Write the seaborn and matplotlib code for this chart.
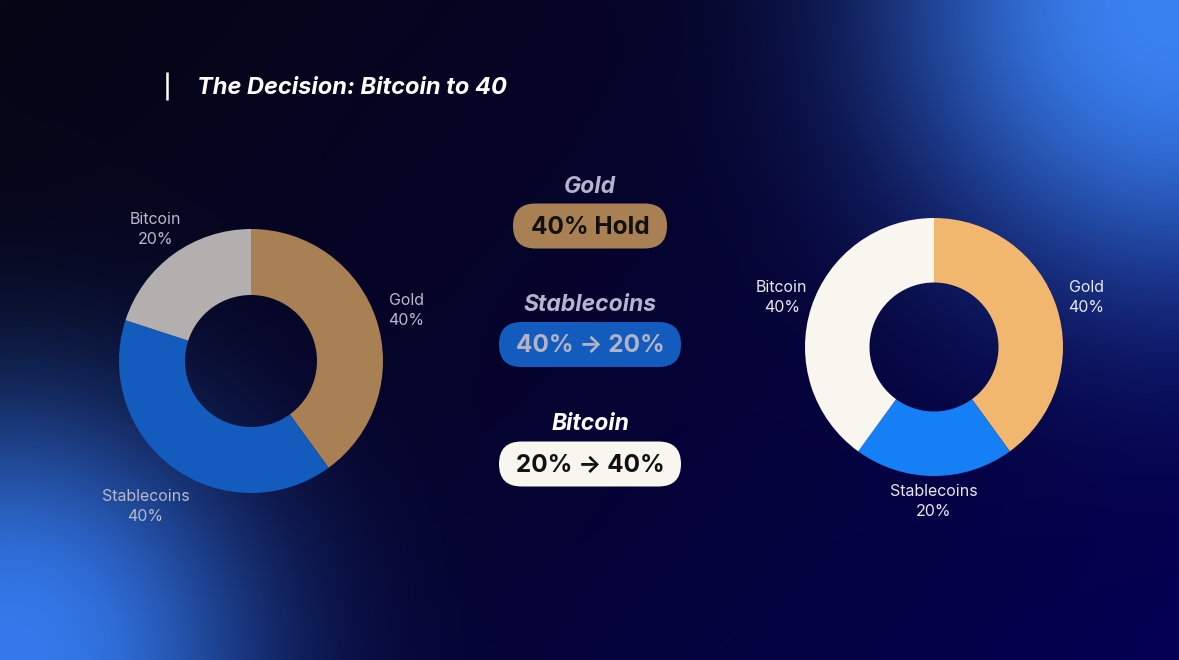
import numpy as np
import matplotlib
matplotlib.use("Agg")
import matplotlib.pyplot as plt
from matplotlib.patches import FancyBboxPatch
import seaborn as sns

# ---------------- data ----------------
categories = ["Gold", "Stablecoins", "Bitcoin"]
before_pct = [40, 40, 20]
after_pct = [40, 20, 40]
change_labels = ["40% Hold", "40% → 20%", "20% → 40%"]
title = "The Decision: Bitcoin to 40"

# ---------------- style ----------------
sns.set_theme(style="white")
plt.rcParams["font.family"] = ["Inter", "DejaVu Sans"]

W, H = 1179, 660
fig = plt.figure(figsize=(W / 100, H / 100), dpi=100)

# background gradient
yy, xx = np.mgrid[0:H, 0:W].astype(float)
t = (np.clip(0.68 * xx / W + 0.32 * yy / H, 0, 1) ** 1.3)[..., None]
c0 = np.array([6, 6, 22]) / 255
c1 = np.array([4, 0, 84]) / 255
img = c0 + (c1 - c0) * t
def glow(cx, cy, R, col, p=2.0):
    d = np.hypot(xx - cx, yy - cy)
    w = np.exp(-(d / R) ** p)[..., None]
    return w, np.array(col) / 255
for cx, cy, R, col, p in [(10, 655, 250, (52, 122, 236), 2.4),
                          (1179, 0, 290, (58, 130, 242), 2.5)]:
    w, c = glow(cx, cy, R, col, p)
    img = img * (1 - w) + c * w
bg = fig.add_axes([0, 0, 1, 1])
bg.imshow(img, extent=(0, W, H, 0), aspect="auto", interpolation="bilinear")
bg.set_xlim(0, W)
bg.set_ylim(H, 0)
bg.axis("off")

# ---------------- donuts ----------------
def donut(cx, cy, R, values, colors, label_color, label_dist):
    ax = fig.add_axes([(cx - R) / W, 1 - (cy + R) / H, 2 * R / W, 2 * R / H])
    wedges, _ = ax.pie(values, colors=colors, startangle=90, counterclock=False,
                       radius=1, wedgeprops=dict(width=0.5, linewidth=0))
    ax.set_xlim(-1, 1)
    ax.set_ylim(-1, 1)
    ax.axis("off")
    for wdg, cat, v, dist in zip(wedges, categories, values, label_dist):
        ang = np.deg2rad((wdg.theta1 + wdg.theta2) / 2)
        ax.text(dist * np.cos(ang), dist * np.sin(ang), f"{cat}\n{v}%",
                ha="center", va="center", fontsize=11.5, color=label_color,
                linespacing=1.4, clip_on=False)
    return ax

donut(251, 361, 132, before_pct, ["#A98054", "#135CBE", "#B3AFAF"], "#B9B9CB",
      [1.235, 1.36, 1.235])
donut(934, 347, 129, after_pct, ["#F2B76E", "#1580F5", "#F9F5EF"], "#E8E8F0",
      [1.24, 1.20, 1.24])

# ---------------- overlay (pixel coords) ----------------
ov = fig.add_axes([0, 0, 1, 1])
ov.set_xlim(0, W)
ov.set_ylim(H, 0)
ov.axis("off")
ov.patch.set_alpha(0)

ov.plot([167, 167], [72, 100], color="white", lw=1.8, solid_capstyle="butt")
ov.text(197, 88, title, ha="left", va="center", fontsize=17, color="white",
        fontweight="bold", fontstyle="italic")

head_y = [187, 305, 424]
pill_y = [226, 344.5, 464]
pill_w = [154, 182, 182]
pill_h = 45
head_colors = ["#B4B4CC", "#B4B4CC", "#FFFFFF"]
pill_colors = ["#A98054", "#135CBE", "#F9F5EF"]
pill_text_colors = ["#111111", "#B3B3C3", "#111111"]
cxm = 590
for cat, lab, hy, py, pw, hc, pc, tc in zip(categories, change_labels, head_y, pill_y,
                                            pill_w, head_colors, pill_colors, pill_text_colors):
    ov.text(cxm, hy, cat, ha="center", va="center", fontsize=16.5, color=hc,
            fontweight="bold", fontstyle="italic")
    r = pill_h / 2
    box = FancyBboxPatch((cxm - pw / 2 + r, py - pill_h / 2 + r), pw - 2 * r, pill_h - 2 * r,
                         boxstyle=f"round,pad={r},rounding_size={r}",
                         facecolor=pc, edgecolor="none")
    ov.add_patch(box)
    ov.text(cxm, py + 1, lab, ha="center", va="center", fontsize=17.5, color=tc,
            fontweight="bold")

fig.savefig("out.png", dpi=100)
